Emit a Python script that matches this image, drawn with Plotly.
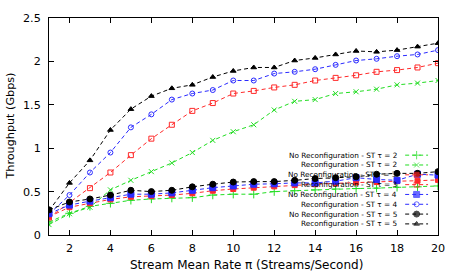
import plotly.graph_objects as go

x = list(range(1, 21))

no_reconf_t2 = [0.15, 0.25, 0.33, 0.365, 0.40, 0.415, 0.425, 0.43, 0.46, 0.47,
                0.47, 0.50, 0.51, 0.52, 0.53, 0.535, 0.54, 0.55, 0.555, 0.565]
reconf_t2 = [0.12, 0.245, 0.32, 0.52, 0.63, 0.73, 0.83, 0.95, 1.09, 1.19,
             1.27, 1.44, 1.54, 1.56, 1.63, 1.65, 1.68, 1.73, 1.75, 1.78]
no_reconf_t3 = [0.21, 0.32, 0.365, 0.41, 0.44, 0.45, 0.46, 0.48, 0.51, 0.53,
                0.545, 0.56, 0.575, 0.585, 0.595, 0.605, 0.61, 0.62, 0.625, 0.635]
reconf_t3 = [0.20, 0.37, 0.54, 0.72, 0.92, 1.11, 1.27, 1.43, 1.52, 1.63,
             1.66, 1.70, 1.73, 1.78, 1.81, 1.84, 1.88, 1.90, 1.93, 1.98]
no_reconf_t4 = [0.245, 0.345, 0.39, 0.43, 0.47, 0.47, 0.485, 0.515, 0.545, 0.565,
                0.585, 0.59, 0.60, 0.60, 0.62, 0.66, 0.64, 0.63, 0.70, 0.69]
reconf_t4 = [0.24, 0.46, 0.72, 0.95, 1.24, 1.39, 1.56, 1.63, 1.67, 1.78,
             1.78, 1.86, 1.88, 1.91, 1.96, 2.01, 2.03, 2.06, 2.08, 2.13]
no_reconf_t5 = [0.29, 0.38, 0.415, 0.46, 0.515, 0.50, 0.515, 0.555, 0.585, 0.61,
                0.615, 0.615, 0.63, 0.65, 0.66, 0.67, 0.70, 0.71, 0.71, 0.73]
reconf_t5 = [0.28, 0.60, 0.86, 1.21, 1.45, 1.60, 1.69, 1.73, 1.82, 1.89,
             1.93, 1.93, 2.01, 2.04, 2.08, 2.12, 2.11, 2.13, 2.17, 2.21]

labels = [
    "No Reconfiguration - ST τ = 2",
    "Reconfiguration - ST τ = 2",
    "No Reconfiguration - ST τ = 3",
    "Reconfiguration - ST τ = 3",
    "No Reconfiguration - ST τ = 4",
    "Reconfiguration - ST τ = 4",
    "No Reconfiguration - ST τ = 5",
    "Reconfiguration - ST τ = 5",
]
series = [no_reconf_t2, reconf_t2, no_reconf_t3, reconf_t3,
          no_reconf_t4, reconf_t4, no_reconf_t5, reconf_t5]

GREEN = "#22dd22"
RED = "#ff2a2a"
BLUE = "#2a2aff"
BLACK = "#000000"
styles = [
    (GREEN, "cross-thin", 6),
    (GREEN, "x-thin", 5),
    (RED, "square", 5),
    (RED, "square-open", 5),
    (BLUE, "square", 6),
    (BLUE, "circle-open", 5),
    (BLACK, "circle", 6),
    (BLACK, "triangle-up", 5),
]
DASH = "4px,3px"
FONT = "DejaVu Sans"

fig = go.Figure()
for vals, (col, sym, sz), lab in zip(series, styles, labels):
    fig.add_trace(go.Scatter(
        x=x, y=vals, mode="lines+markers", name=lab, showlegend=False,
        line=dict(color=col, width=1, dash=DASH),
        marker=dict(symbol=sym, size=sz, color=col, line=dict(color=col, width=1)),
    ))

# custom gnuplot-style key (text right-aligned, sample on the right)
W, H = 457, 274
L, R, T, B = 49, 17, 14, 39
pw, ph = W - L - R, H - T - B
key_text_right = (401 - L) / pw
key_x0 = (407 - L) / pw
key_x1 = (430 - L) / pw
key_xm = (key_x0 + key_x1) / 2
annotations = []
for i, ((col, sym, sz), lab) in enumerate(zip(styles, labels)):
    py = 153.7 + 10 * i
    fy = (H - B - py) / ph
    annotations.append(dict(
        xref="paper", yref="paper", x=key_text_right, y=fy, text=lab,
        xanchor="right", yanchor="middle", showarrow=False,
        font=dict(family=FONT, size=7.3, color="#000")))
    fig.add_trace(go.Scatter(
        x=[key_x0, key_xm, key_x1], y=[fy, fy, fy], xaxis="x2", yaxis="y2",
        mode="lines+markers", showlegend=False, hoverinfo="skip",
        line=dict(color=col, width=1, dash=DASH),
        marker=dict(symbol=sym, size=[0, sz, 0], color=col,
                    line=dict(color=col, width=1)),
    ))

annotations.append(dict(
    xref="paper", yref="paper", x=0.5, xshift=3, y=0, yshift=-30, yanchor="middle",
    text="Stream Mean Rate π (Streams/Second)", showarrow=False,
    font=dict(family=FONT, size=12, color="#000")))
annotations.append(dict(
    xref="paper", yref="paper", x=0, xshift=-39, y=0.5, textangle=-90,
    xanchor="center", yanchor="middle",
    text="Throughput (Gbps)", showarrow=False,
    font=dict(family=FONT, size=11.2, color="#000")))

axis_common = dict(
    showline=True, linecolor="black", linewidth=1, mirror="ticks",
    ticks="inside", ticklen=5, tickwidth=1, tickcolor="black",
    showgrid=False, zeroline=False,
    tickfont=dict(family=FONT, size=11.2, color="#000"),
)

fig.update_layout(
    width=W, height=H,
    margin=dict(l=L, r=R, t=T, b=B),
    paper_bgcolor="white", plot_bgcolor="white",
    font=dict(family=FONT, size=11, color="#000"),
    xaxis=dict(range=[1, 20], tickmode="array", tickvals=list(range(2, 21, 2)),
               ticklabelstandoff=3, **axis_common),
    yaxis=dict(range=[0, 2.5], tickmode="array",
               tickvals=[0, 0.5, 1, 1.5, 2, 2.5],
               ticktext=["0", "0.5", "1", "1.5", "2", "2.5"],
               ticklabelstandoff=5, **axis_common),
    xaxis2=dict(range=[0, 1], overlaying="x", visible=False, fixedrange=True),
    yaxis2=dict(range=[0, 1], overlaying="y", visible=False, fixedrange=True),
    annotations=annotations,
    showlegend=False,
)

fig.write_html(
    "out.html",
    config={"displayModeBar": False},
    post_script="document.body.style.margin='0';document.body.style.overflow='hidden';",
)
